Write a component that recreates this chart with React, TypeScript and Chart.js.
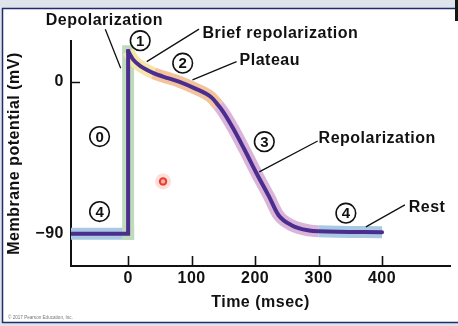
import { useEffect, useRef } from 'react';
import { Chart, registerables } from 'chart.js';

Chart.register(...registerables);

// ---- data (time in msec, membrane potential in mV) ----
const restLeftT = [-90, 0, 0];
const restLeftV = [-90, -90, 18];
const curveT = [0, 8, 20, 40, 55, 80, 105, 130, 142, 150, 166, 183, 202, 222, 237, 258, 285, 300, 400];
const curveV = [18, 13, 9, 5, 3, 0, -4, -9, -14, -18, -28, -40, -54, -68, -79, -85, -88, -88.5, -89];
const phaseBounds = [40, 142, 300]; // brief repol ends, plateau ends, repolarization ends
const xTicks = [0, 100, 200, 300, 400];
const xTickLabels = ['0', '100', '200', '300', '400'];
const yTicks = [0, -90];
const yTickLabels = ['0', '\u221290'];
const laserT = [55];
const laserV = [-59];

// annotations (anchored in data units)
const labelTexts = ['Depolarization', 'Brief repolarization', 'Plateau', 'Repolarization', 'Rest'];
const labelT = [-37.5, 117, 175.5, 300, 442];
const labelV = [33.5, 25.8, 9.9, -36.2, -77];
const labelAlign = ['center', 'left', 'left', 'left', 'left'];
const leaderFromT = [-36, 111.7, 170.8, 298.6, 436];
const leaderFromV = [31, 31, 11.8, -35.1, -72.9];
const leaderToT = [-11.7, 29.3, 101.4, 206.5, 374.5];
const leaderToV = [7.9, 11.8, 1.0, -53.4, -85.9];
const circleNums = ['1', '2', '3', '0', '4', '4'];
const circleT = [19, 86, 214.5, -45, -45, 343];
const circleV = [24.2, 10.9, -35.5, -32.5, -76.8, -77.8];

const FONT = "'Liberation Sans', Arial, Helvetica, sans-serif";
const PURPLE = '#4a2d8e';
const C_REST = '#a9c8e2';
const C_UP = '#bfdbbb';
const C_BRIEF = '#f5e5a8';
const C_PLATEAU = '#f3c39e';
const C_REPOL = '#dbb5d9';
const SPACING = '0.5px';

const pts = (ts: number[], vs: number[]) => ts.map((t, i) => ({ x: t, y: vs[i] }));

const framePlugin = {
  id: 'frame',
  beforeDraw(chart: any) {
    const ctx = chart.ctx;
    const W = chart.width, H = chart.height;
    ctx.save();
    ctx.fillStyle = '#ffffff';
    ctx.fillRect(0, 0, W, H);
    ctx.fillStyle = '#dfe3ec';
    ctx.fillRect(0, 0, W, 8);
    ctx.fillRect(0, 0, 2, H);
    ctx.fillRect(0, 323, W, H - 323);
    ctx.restore();
    (ctx as any).letterSpacing = SPACING;
  },
  beforeDatasetsDraw(chart: any) {
    const ctx = chart.ctx;
    const xs = chart.scales.x, ys = chart.scales.y;
    const a = chart.chartArea;
    ctx.save();
    ctx.strokeStyle = '#111';
    ctx.lineWidth = 1.6;
    ctx.beginPath();
    xTicks.forEach((v) => {
      const px = Math.round(xs.getPixelForValue(v)) + 0.5;
      ctx.moveTo(px, a.bottom);
      ctx.lineTo(px, a.bottom - 10);
    });
    yTicks.forEach((v) => {
      const py = Math.round(ys.getPixelForValue(v)) + 0.5;
      ctx.moveTo(a.left, py);
      ctx.lineTo(a.left + 9, py);
    });
    ctx.stroke();
    ctx.restore();
  },
  afterDraw(chart: any) {
    const ctx = chart.ctx;
    const xs = chart.scales.x, ys = chart.scales.y;
    const W = chart.width;
    ctx.save();
    // leader lines
    ctx.strokeStyle = '#111';
    ctx.lineWidth = 1.3;
    ctx.beginPath();
    leaderFromT.forEach((t, i) => {
      ctx.moveTo(xs.getPixelForValue(t), ys.getPixelForValue(leaderFromV[i]));
      ctx.lineTo(xs.getPixelForValue(leaderToT[i]), ys.getPixelForValue(leaderToV[i]));
    });
    ctx.stroke();
    // labels
    ctx.fillStyle = '#111';
    ctx.font = `bold 16px ${FONT}`;
    ctx.letterSpacing = SPACING;
    ctx.textBaseline = 'alphabetic';
    labelTexts.forEach((txt, i) => {
      ctx.textAlign = labelAlign[i] as CanvasTextAlign;
      ctx.fillText(txt, xs.getPixelForValue(labelT[i]), ys.getPixelForValue(labelV[i]));
    });
    // circled numbers
    ctx.letterSpacing = '0px';
    ctx.font = `bold 15px ${FONT}`;
    ctx.textAlign = 'center';
    ctx.textBaseline = 'middle';
    ctx.lineWidth = 1.6;
    circleNums.forEach((n, i) => {
      const cx = xs.getPixelForValue(circleT[i]);
      const cy = ys.getPixelForValue(circleV[i]);
      ctx.fillStyle = '#ffffff';
      ctx.beginPath();
      ctx.arc(cx, cy, 9.8, 0, Math.PI * 2);
      ctx.fill();
      ctx.stroke();
      ctx.fillStyle = '#111';
      ctx.fillText(n, cx, cy + 1);
    });
    // copyright
    ctx.font = `4.6px ${FONT}`;
    ctx.fillStyle = '#777';
    ctx.textAlign = 'left';
    ctx.textBaseline = 'alphabetic';
    ctx.fillText('\u00a9 2017 Pearson Education, Inc.', 8, 319);
    // frame lines
    ctx.strokeStyle = '#1f2d6c';
    ctx.lineWidth = 1.5;
    ctx.beginPath();
    ctx.moveTo(2, 8.5);
    ctx.lineTo(455, 8.5);
    ctx.moveTo(2.5, 8);
    ctx.lineTo(2.5, 323);
    ctx.moveTo(2, 322.5);
    ctx.lineTo(W, 322.5);
    ctx.stroke();
    ctx.fillStyle = '#151515';
    ctx.fillRect(455, 0, 3, 21);
    ctx.restore();
  },
};

function curveBandColor(ctx: any) {
  const x0 = ctx.p0.parsed.x;
  if (x0 < phaseBounds[0]) return C_BRIEF;
  if (x0 < phaseBounds[1]) return C_PLATEAU;
  if (x0 < phaseBounds[2]) return C_REPOL;
  return C_REST;
}

export default function App() {
  const ref = useRef<HTMLCanvasElement | null>(null);
  useEffect(() => {
    if (!ref.current) return;
    const tickFont = { family: FONT, weight: 'bold' as const, size: 16 };
    const chart = new Chart(ref.current, {
      type: 'line',
      data: {
        datasets: [
          {
            data: pts(laserT, laserV),
            showLine: false,
            pointRadius: 3.2,
            pointBackgroundColor: '#ffb3aa',
            pointBorderColor: '#ec3a2a',
            pointBorderWidth: 2,
            order: 0,
          } as any,
          {
            data: pts(laserT, laserV),
            showLine: false,
            pointRadius: 8,
            pointBackgroundColor: 'rgba(255,100,90,0.22)',
            pointBorderWidth: 0,
            order: 1,
          } as any,
          {
            data: pts(restLeftT, restLeftV),
            borderColor: PURPLE,
            borderWidth: 4,
            tension: 0,
            pointRadius: 0,
            borderCapStyle: 'square',
            borderJoinStyle: 'miter',
            clip: { left: 0, top: 20, right: 0, bottom: 0 },
            order: 2,
          } as any,
          {
            data: pts(curveT, curveV),
            borderColor: PURPLE,
            borderWidth: 4,
            cubicInterpolationMode: 'monotone',
            pointRadius: 0,
            borderCapStyle: 'round',
            order: 2,
          } as any,
          {
            data: pts(curveT, curveV),
            borderColor: C_BRIEF,
            borderWidth: 12,
            cubicInterpolationMode: 'monotone',
            pointRadius: 0,
            segment: { borderColor: curveBandColor },
            order: 3,
          } as any,
          {
            data: pts(restLeftT, restLeftV),
            borderColor: C_REST,
            borderWidth: 12,
            tension: 0,
            pointRadius: 0,
            borderCapStyle: 'square',
            segment: { borderColor: (c: any) => (c.p0DataIndex === 0 ? C_REST : C_UP) },
            clip: { left: 0, top: 20, right: 0, bottom: 0 },
            order: 4,
          } as any,
        ],
      },
      options: {
        animation: false,
        responsive: false,
        events: [],
        layout: { padding: { top: 41, left: 0, right: 0, bottom: 0 } },
        plugins: { legend: { display: false }, tooltip: { enabled: false }, title: { display: false } },
        scales: {
          x: {
            type: 'linear',
            min: -90,
            max: 507,
            afterBuildTicks: (s: any) => {
              s.ticks = xTicks.map((v) => ({ value: v }));
            },
            afterFit: (s: any) => {
              s.height = 60;
            },
            grid: { display: false, drawTicks: false },
            border: { display: true, color: '#111', width: 2 },
            ticks: {
              color: '#111',
              font: tickFont,
              padding: 3,
              maxRotation: 0,
              autoSkip: false,
              callback: (_v: any, i: number) => xTickLabels[i],
            },
            title: {
              display: true,
              text: 'Time (msec)',
              color: '#111',
              font: tickFont,
              padding: { top: 0, bottom: 14 },
            },
          },
          y: {
            type: 'linear',
            min: -109,
            max: 24,
            afterBuildTicks: (s: any) => {
              s.ticks = yTicks.map((v) => ({ value: v }));
            },
            afterFit: (s: any) => {
              s.width = 71;
            },
            grid: { display: false, drawTicks: false },
            border: { display: true, color: '#111', width: 2 },
            ticks: {
              color: '#111',
              font: tickFont,
              padding: 7,
              autoSkip: false,
              callback: (_v: any, i: number) => yTickLabels[i],
            },
            title: {
              display: true,
              text: 'Membrane potential (mV)',
              color: '#111',
              font: tickFont,
              padding: { top: 5, bottom: 0 },
            },
          },
        },
      },
      plugins: [framePlugin as any],
    });
    return () => chart.destroy();
  }, []);
  return (
    <div style={{ position: 'absolute', left: 0, top: 0, width: 458, height: 326 }}>
      <canvas ref={ref} width={458} height={326} style={{ display: 'block' }} />
    </div>
  );
}
